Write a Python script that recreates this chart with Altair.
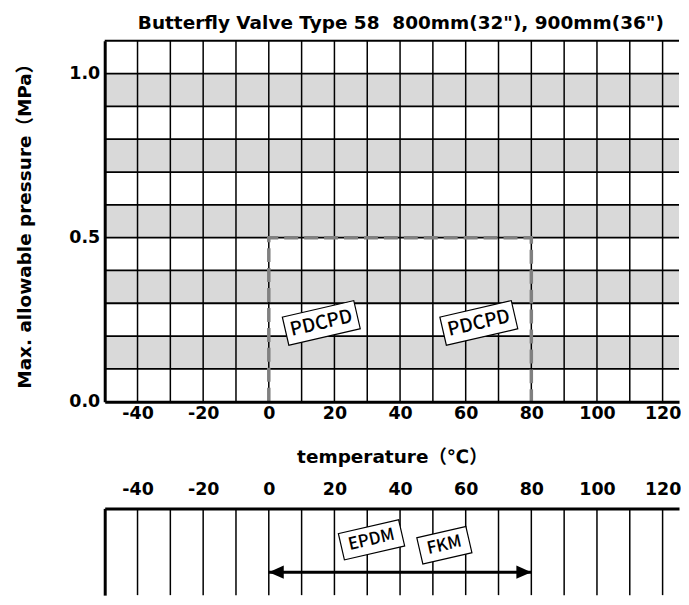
import altair as alt
import pandas as pd

FONT = "DejaVu Sans, Noto Sans CJK JP"
BOX_FONT = "Noto Sans CJK JP"

chart_title = 'Butterfly Valve Type 58\u00a0\u00a0800mm(32"), 900mm(36")'
x_title = "temperature（℃）"
y_title = "Max. allowable pressure（MPa）"

x_domain = [-50, 125]
y_domain = [0, 1.1]
x_tick_labels = [-40, -20, 0, 20, 40, 60, 80, 100, 120]
y_tick_labels = [0.0, 0.5, 1.0]
x_grid = [-40, -30, -20, -10, 0, 10, 20, 30, 40, 50, 60, 70, 80, 90, 100, 110, 120]
y_grid = [0.1, 0.2, 0.3, 0.4, 0.5, 0.6, 0.7, 0.8, 0.9, 1.0]
band_low = [0.1, 0.3, 0.5, 0.7, 0.9]
band_high = [0.2, 0.4, 0.6, 0.8, 1.0]

# pressure-temperature limit line
limit_temp = [0, 0, 80, 80]
limit_pres = [0.0, 0.5, 0.5, 0.0]

# seat material labels (top panel)
seat_names = ["PDCPD", "PDCPD"]
seat_temp = [16, 64]
seat_pres = [0.24, 0.24]

# liner material range (bottom panel)
liner_names = ["EPDM", "FKM"]
liner_temp = [31.3, 53.5]
liner_level = [2.55, 2.3]
range_from = 0
range_to = 80
range_level = 1.06
bottom_domain = [0, 4]

W = 576
H_TOP = 362
H_BOT = 87
BOX_SIZE = 10000  # symbol area -> path unit = 50 px


def box_path(height):
    # rectangle path whose width follows the label length (in symbol units of 50 px)
    hw = "((length(datum.name) * 11.5 + 16) / 100)"
    hh = str(height / 100)
    return ("'M ' + (-" + hw + ") + ' -" + hh + " L ' + " + hw + " + ' -" + hh +
            " L ' + " + hw + " + ' " + hh + " L ' + (-" + hw + ") + ' " + hh + " Z'")


xs = alt.Scale(domain=x_domain, nice=False, zero=False)
ys = alt.Scale(domain=y_domain, nice=False, zero=False)
bs = alt.Scale(domain=bottom_domain, nice=False, zero=False)

bands = pd.DataFrame({"lo": band_low, "hi": band_high})
vgrid = pd.DataFrame({"t": x_grid})
hgrid = pd.DataFrame({"p": y_grid})
limit = pd.DataFrame({"t": limit_temp, "p": limit_pres, "i": list(range(len(limit_temp)))})
seats = pd.DataFrame({"name": seat_names, "t": seat_temp, "p": seat_pres})
liners = pd.DataFrame({"name": liner_names, "t": liner_temp, "p": liner_level})
rng = pd.DataFrame({"a": [range_from], "b": [range_to], "lvl": [range_level]})
ends = pd.DataFrame({"t": [range_from, range_to], "lvl": [range_level, range_level], "side": ["L", "R"]})
topb = pd.DataFrame({"p": [y_domain[1]]})

xaxis_top = alt.Axis(values=x_tick_labels, title=x_title, grid=False, ticks=False,
                     labelExpr="'' + datum.value",
                     domainWidth=3, domainColor="black", zindex=2,
                     labelFont=FONT, labelFontSize=17.5, labelFontWeight="bold", labelColor="black",
                     labelPadding=3, labelFlush=False,
                     titleFont=FONT, titleFontSize=18.5, titleFontWeight="bold", titleColor="black",
                     titlePadding=25)
yaxis_top = alt.Axis(values=y_tick_labels, format=".1f", title=y_title, grid=False, ticks=False,
                     domainWidth=3, domainColor="black", zindex=2,
                     labelFont=FONT, labelFontSize=17.5, labelFontWeight="bold", labelColor="black",
                     labelPadding=5, labelFlush=False,
                     titleFont=FONT, titleFontSize=18.5, titleFontWeight="bold", titleColor="black",
                     titlePadding=34)

band_layer = alt.Chart(bands).mark_rect(color="#d9d9d9").encode(
    x=alt.value(0), x2=alt.value("width"),
    y=alt.Y("lo:Q", scale=ys, axis=yaxis_top), y2="hi:Q")
vlines = alt.Chart(vgrid).mark_rule(color="black", strokeWidth=1.5).encode(
    x=alt.X("t:Q", scale=xs, axis=xaxis_top))
hlines = alt.Chart(hgrid).mark_rule(color="black", strokeWidth=1.8).encode(
    y=alt.Y("p:Q", scale=ys))
top_border = alt.Chart(topb).mark_rule(color="black", strokeWidth=2).encode(
    y=alt.Y("p:Q", scale=ys))
limit_line = alt.Chart(limit).mark_line(color="#808080", strokeWidth=3.5, strokeDash=[14, 6]).encode(
    x=alt.X("t:Q", scale=xs), y=alt.Y("p:Q", scale=ys), order="i:Q")

seat_box = alt.Chart(seats).transform_calculate(path=box_path(29)).mark_point(
    size=BOX_SIZE, filled=True, fill="white", stroke="black", strokeWidth=1.2, opacity=1,
    angle=347).encode(
    x=alt.X("t:Q", scale=xs), y=alt.Y("p:Q", scale=ys), shape=alt.Shape("path:N", scale=None))
seat_text = alt.Chart(seats).mark_text(font=BOX_FONT, fontSize=19, fontWeight=500, color="black",
                                       angle=347).encode(
    x=alt.X("t:Q", scale=xs), y=alt.Y("p:Q", scale=ys), text="name:N")

top = alt.layer(band_layer, vlines, hlines, top_border, limit_line, seat_box, seat_text).properties(
    width=W, height=H_TOP,
    title=alt.TitleParams(chart_title, font=FONT, fontSize=18.5, fontWeight="bold", color="black",
                          anchor="middle", offset=7, dx=9))

xaxis_bot = alt.Axis(values=x_tick_labels, orient="top", title=None, grid=False, ticks=False,
                     labelExpr="'' + datum.value",
                     domainWidth=3, domainColor="black", zindex=2,
                     labelFont=FONT, labelFontSize=17.5, labelFontWeight="bold", labelColor="black",
                     labelPadding=10, labelFlush=False)
yaxis_bot = alt.Axis(title=None, labels=False, ticks=False, grid=False,
                     domainWidth=3, domainColor="black", zindex=2)

b_vlines = alt.Chart(vgrid).mark_rule(color="black", strokeWidth=1.5).encode(
    x=alt.X("t:Q", scale=xs, axis=xaxis_bot))
b_left = alt.Chart(bands.head(1)).mark_point(opacity=0).encode(
    x=alt.X("lo:Q", scale=xs), y=alt.Y("lo:Q", scale=bs, axis=yaxis_bot))
arrow_line = alt.Chart(rng).mark_rule(color="black", strokeWidth=3).encode(
    x=alt.X("a:Q", scale=xs), x2="b:Q", y=alt.Y("lvl:Q", scale=bs))
left_head = alt.Chart(ends[ends.side == "L"]).mark_point(
    shape="M 0 0 L 1 -0.45 L 1 0.45 Z", size=900, filled=True, color="black", opacity=1).encode(
    x=alt.X("t:Q", scale=xs), y=alt.Y("lvl:Q", scale=bs))
right_head = alt.Chart(ends[ends.side == "R"]).mark_point(
    shape="M 0 0 L -1 -0.45 L -1 0.45 Z", size=900, filled=True, color="black", opacity=1).encode(
    x=alt.X("t:Q", scale=xs), y=alt.Y("lvl:Q", scale=bs))
liner_box = alt.Chart(liners).transform_calculate(path=box_path(27)).mark_point(
    size=BOX_SIZE, filled=True, fill="white", stroke="black", strokeWidth=1.2, opacity=1,
    angle=347).encode(
    x=alt.X("t:Q", scale=xs), y=alt.Y("p:Q", scale=bs), shape=alt.Shape("path:N", scale=None))
liner_text = alt.Chart(liners).mark_text(font=BOX_FONT, fontSize=17, fontWeight=500, color="black",
                                         angle=347).encode(
    x=alt.X("t:Q", scale=xs), y=alt.Y("p:Q", scale=bs), text="name:N")

bottom = alt.layer(b_vlines, b_left, arrow_line, left_head, right_head, liner_box, liner_text).properties(
    width=W, height=H_BOT)

chart = alt.vconcat(top, bottom, spacing=15).properties(
    padding={"left": 7, "top": 5, "right": 0, "bottom": 0}).configure_view(stroke=None)

chart.save("out.html", embed_options={"renderer": "svg", "actions": False})
